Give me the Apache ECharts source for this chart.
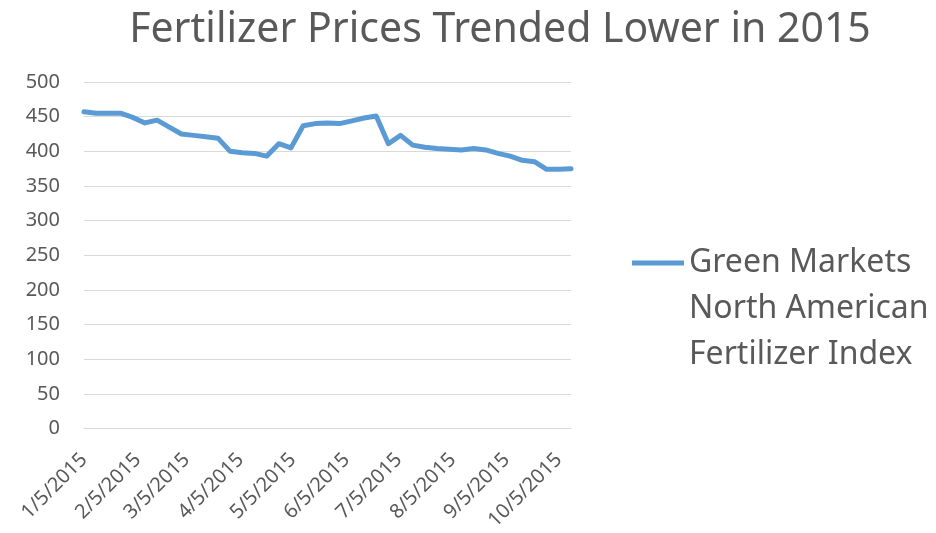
<!DOCTYPE html>
<html>
<head>
<meta charset="utf-8">
<script src="https://cdn.jsdelivr.net/npm/echarts@6/dist/echarts.min.js"></script>
<style>
html, body { margin: 0; padding: 0; background: #fff; }
#main { width: 936px; height: 533px; }
</style>
</head>
<body>
<div id="main"></div>
<script>
// weekly index values, 2015
var dates = [
    '2015-01-05', '2015-01-12', '2015-01-19', '2015-01-26', '2015-02-02', '2015-02-09',
    '2015-02-16', '2015-02-23', '2015-03-02', '2015-03-09', '2015-03-16', '2015-03-23',
    '2015-03-30', '2015-04-06', '2015-04-13', '2015-04-20', '2015-04-27', '2015-05-04',
    '2015-05-11', '2015-05-18', '2015-05-25', '2015-06-01', '2015-06-08', '2015-06-15',
    '2015-06-22', '2015-06-29', '2015-07-06', '2015-07-13', '2015-07-20', '2015-07-27',
    '2015-08-03', '2015-08-10', '2015-08-17', '2015-08-24', '2015-08-31', '2015-09-07',
    '2015-09-14', '2015-09-21', '2015-09-28', '2015-10-05', '2015-10-12'
];
var indexValues = [
    457, 455, 455, 455, 449, 441, 445, 435, 425, 423, 421, 419,
    400, 398, 397, 393, 411, 405, 437, 440, 441, 440, 444, 448,
    451, 411, 423, 409, 406, 404, 403, 402, 404, 402, 397, 393,
    387, 385, 374, 374, 375
];
var labelDates = [
    '2015-01-05', '2015-02-05', '2015-03-05', '2015-04-05', '2015-05-05',
    '2015-06-05', '2015-07-05', '2015-08-05', '2015-09-05', '2015-10-05'
];
var seriesName = 'Green Markets North American Fertilizer Index';

var myChart = echarts.init(document.getElementById('main'));
function toTime(d) { return echarts.time.parse(d).getTime(); }
var labelTimes = labelDates.map(toTime);
var seriesData = dates.map(function (d, i) { return [toTime(d), indexValues[i]]; });

option = {
    animation: false,
    textStyle: { fontFamily: 'Noto Sans' },
    title: {
        text: 'Fertilizer Prices Trended Lower in 2015',
        left: 495,
        textAlign: 'center',
        top: 5,
        textStyle: {
            color: '#595959',
            fontSize: 41,
            fontWeight: 'normal',
            fontFamily: 'Noto Sans'
        }
    },
    legend: {
        data: [seriesName],
        orient: 'vertical',
        left: 632,
        top: 240,
        padding: 0,
        itemWidth: 52,
        itemHeight: 97,
        // bar on top, blank below so the bar sits beside the first text line
        icon: 'path://M0,0L52,0L52,5L0,5Z M0,96.99L0.01,96.99L0.01,97Z',
        itemStyle: { borderWidth: 0 },
        formatter: function () {
            return 'Green Markets\nNorth American\nFertilizer Index';
        },
        textStyle: {
            color: '#595959',
            fontSize: 32,
            lineHeight: 46
        }
    },
    grid: { left: 84, right: 365, top: 82, bottom: 102 },
    xAxis: {
        type: 'value',
        min: toTime(dates[0]),
        max: toTime(dates[dates.length - 1]),
        axisLine: { lineStyle: { color: '#d9d9d9', width: 1 } },
        axisTick: { show: false, customValues: labelTimes },
        splitLine: { show: false },
        axisLabel: {
            customValues: labelTimes,
            rotate: 45,
            margin: 28,
            color: '#595959',
            fontSize: 20,
            hideOverlap: false,
            formatter: function (v) {
                var d = new Date(v);
                return (d.getMonth() + 1) + '/' + d.getDate() + '/' + d.getFullYear();
            }
        }
    },
    yAxis: {
        type: 'value',
        min: 0,
        max: 500,
        interval: 50,
        axisLine: { show: false },
        axisTick: { show: false },
        splitLine: { lineStyle: { color: '#d9d9d9', width: 1 } },
        axisLabel: { color: '#595959', fontSize: 20, margin: 24 }
    },
    series: [{
        name: seriesName,
        type: 'line',
        symbol: 'none',
        data: seriesData,
        lineStyle: { color: '#5b9bd5', width: 5, cap: 'round', join: 'round' },
        itemStyle: { color: '#5b9bd5' }
    }]
};
myChart.setOption(option, true);
</script>
</body>
</html>
